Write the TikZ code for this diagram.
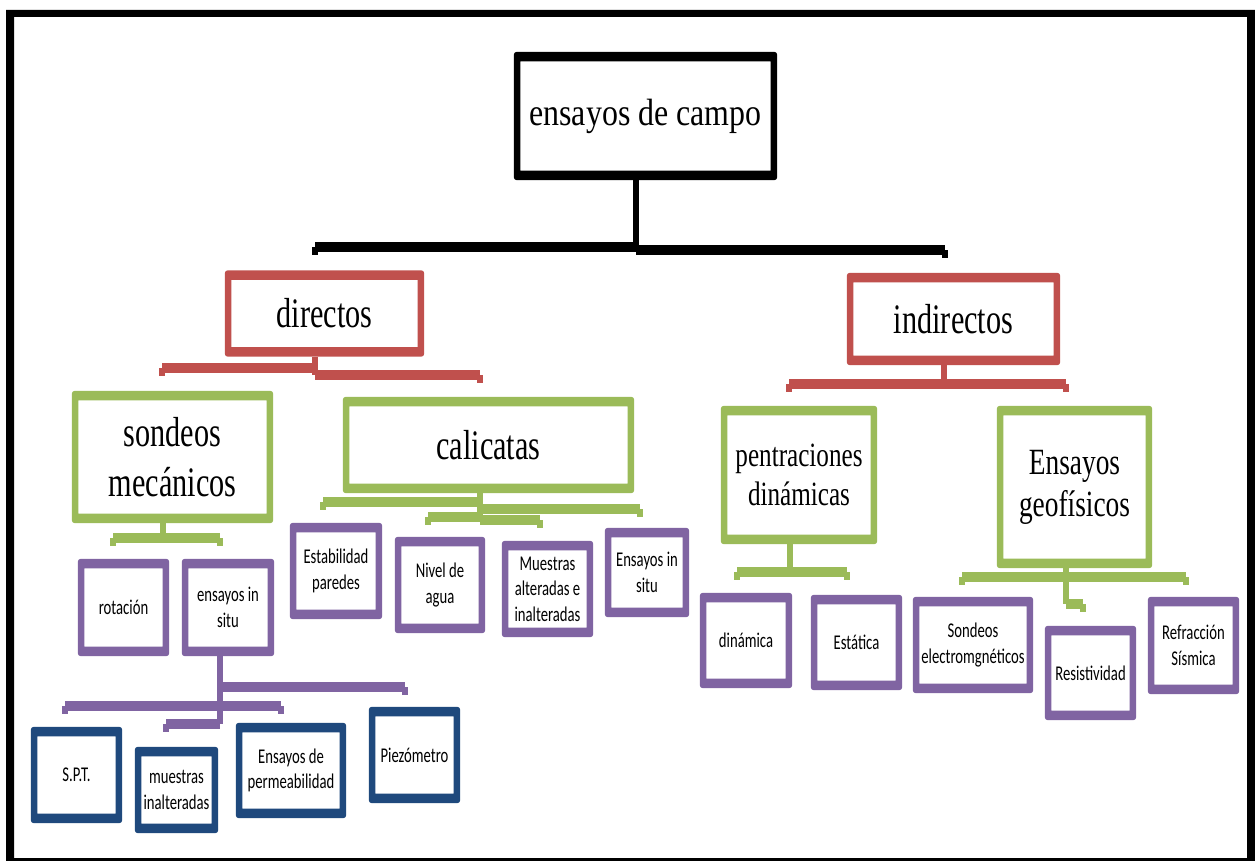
\documentclass[tikz,border=0pt]{standalone}
\usepackage{fontspec}
\setmainfont{Liberation Serif}
% condensed faces for the box labels
\newfontfamily\topserif[FakeStretch=0.84]{Liberation Serif}
\newfontfamily\bigserif[FakeStretch=0.72]{Liberation Serif}
\newfontfamily\midserif[FakeStretch=0.74]{Liberation Serif}
\newfontfamily\smallsans[FakeStretch=0.7]{Carlito}
\usetikzlibrary{calc}

\definecolor{ored}{HTML}{C0504D}
\definecolor{ogreen}{HTML}{9BBB59}
\definecolor{opurple}{HTML}{8064A2}
\definecolor{oblue}{HTML}{1F497D}

\tikzset{
  box/.style={inner sep=0pt, align=center, text=black},
  sz/.style 2 args={minimum width=#1pt, minimum height=#2pt},
  lvl0/.style={box, font={\topserif\fontsize{38}{44}\selectfont}},
  lvl1/.style={box, font={\bigserif\fontsize{42}{50}\selectfont}},
  lvl2a/.style={box, font={\midserif\fontsize{34}{39}\selectfont}},
  lvl2b/.style={box, font={\midserif\fontsize{37}{42}\selectfont}},
  leaf/.style={box, font={\smallsans\fontsize{21}{25.6}\selectfont}},
  stemline/.style={line width=6pt},
  barline/.style={line width=9.5pt},
}

% thick frame round a node: thinner sides, heavier top and bottom
\newcommand\ring[2]{%
  \fill[#1, even odd rule] [rounded corners=3pt] (#2.north west) rectangle (#2.south east)
    [sharp corners] ([xshift=6.5pt, yshift=-9.5pt]#2.north west) rectangle ([xshift=-6.5pt, yshift=9.5pt]#2.south east);}

% elbow connector: stem down from the parent, bar across, short tick at the free end
\newcommand\branch[6]{%
  \coordinate (#4) at (#5,#6);
  \coordinate (#4s) at ([xshift=#3]#2.south);
  \draw[#1, stemline] (#4s) -- (#4s |- #4);
  \draw[#1, barline] (#4s |- #4) -- (#4);
  \draw[#1, stemline] (#4) -- ++(0,8);}

\begin{document}
\begin{tikzpicture}[x=1pt, y=-1pt]
\useasboundingbox (0,0) rectangle (1255,861);
\fill[white] (0,0) rectangle (1255,861);
% outer frame
\fill[black, even odd rule] (6,10) rectangle (1262,866) (14,17) rectangle (1247,858);

% --- boxes ---
\node[lvl0, sz={263}{128}] (campo) at (645.5,116) {ensayos de campo};

\node[lvl1, sz={199}{86}] (directos) at (324.5,313.5) {directos};
\node[lvl1, sz={213}{92}] (indirectos) at (953.5,319) {indirectos};

\node[lvl1, sz={201}{132}] (sondeos) at (172.5,457) {sondeos\\mecánicos};
\node[lvl1, sz={291}{96}] (calicatas) at (488.5,445) {calicatas};
\node[lvl2a, sz={156}{138}] (penetr) at (799,475) {pentraciones\\dinámicas};
\node[lvl2b, sz={155}{162}] (geofis) at (1074.5,487) {Ensayos\\geofísicos};

\node[leaf, sz={91}{97}] (rot) at (123.5,607.5) {rotación};
\node[leaf, sz={92}{97}] (insituA) at (228,607.5) {ensayos in\\situ};
\node[leaf, sz={92}{96}] (estab) at (336,571) {Estabilidad\\paredes};
\node[leaf, sz={90}{96}] (nivel) at (440,585) {Nivel de\\agua};
\node[leaf, sz={91}{96}] (muestras) at (547.5,589) {Muestras\\alteradas e\\inalteradas};
\node[leaf, sz={84}{89}] (insituB) at (647,572.5) {Ensayos in\\situ};
\node[leaf, sz={92}{95}] (dinam) at (746,640.5) {dinámica};
\node[leaf, sz={91}{95}] (estat) at (856.5,642.5) {Estática};
\node[leaf, sz={120}{96}] (electro) at (973,645) {Sondeos\\electromgnéticos};
\node[leaf, sz={91}{94}] (resist) at (1090.5,673) {Resistividad};
\node[leaf, sz={91}{97}] (refrac) at (1193.5,645.5) {Refracción\\Sísmica};

\node[leaf, sz={91}{96}] (spt) at (76.5,775) {S.P.T.};
\node[leaf, sz={83}{86}] (inalt) at (176.5,790) {muestras\\inalteradas};
\node[leaf, sz={110}{95}] (permeab) at (291,770.5) {Ensayos de\\permeabilidad};
\node[leaf, sz={91}{96}] (piezo) at (414.5,755) {Piezómetro};

% --- frames ---
\ring{black}{campo}
\ring{ored}{directos}
\ring{ored}{indirectos}
\foreach \n in {sondeos,calicatas,penetr,geofis} {\ring{ogreen}{\n}}
\foreach \n in {rot,insituA,estab,nivel,muestras,insituB,dinam,estat,electro,resist,refrac} {\ring{opurple}{\n}}
\foreach \n in {spt,inalt,permeab,piezo} {\ring{oblue}{\n}}

% --- connectors ---
\branch{black}{campo}{-10pt}{k1}{315}{247}
\branch{black}{campo}{-10pt}{k2}{945}{250}

\branch{ored}{directos}{-9.5pt}{r1}{162}{368}
\branch{ored}{directos}{-9.5pt}{r2}{480}{375}
\branch{ored}{indirectos}{-9.5pt}{r3}{789}{384}
\branch{ored}{indirectos}{-9.5pt}{r4}{1066}{384}

\branch{ogreen}{sondeos}{-10pt}{g1}{113}{538}
\branch{ogreen}{sondeos}{-10pt}{g2}{220}{538}
\branch{ogreen}{calicatas}{-8.5pt}{g3}{323}{502}
\branch{ogreen}{calicatas}{-8.5pt}{g4}{640}{509}
\branch{ogreen}{calicatas}{-8.5pt}{g5}{428}{517}
\branch{ogreen}{calicatas}{-8.5pt}{g6}{540}{520}
\branch{ogreen}{penetr}{-9.5pt}{g7}{737}{572}
\branch{ogreen}{penetr}{-9.5pt}{g8}{847}{572}
\branch{ogreen}{geofis}{-8.5pt}{g9}{962}{577}
\branch{ogreen}{geofis}{-8.5pt}{g10}{1186}{577}
\branch{ogreen}{geofis}{-8.5pt}{g11}{1083}{604}

\branch{opurple}{insituA}{-8.5pt}{p1}{405}{687}
\branch{opurple}{insituA}{-8.5pt}{p2}{65}{706}
\branch{opurple}{insituA}{-8.5pt}{p3}{281}{706}
\branch{opurple}{insituA}{-8.5pt}{p4}{166}{724}
\end{tikzpicture}
\end{document}
